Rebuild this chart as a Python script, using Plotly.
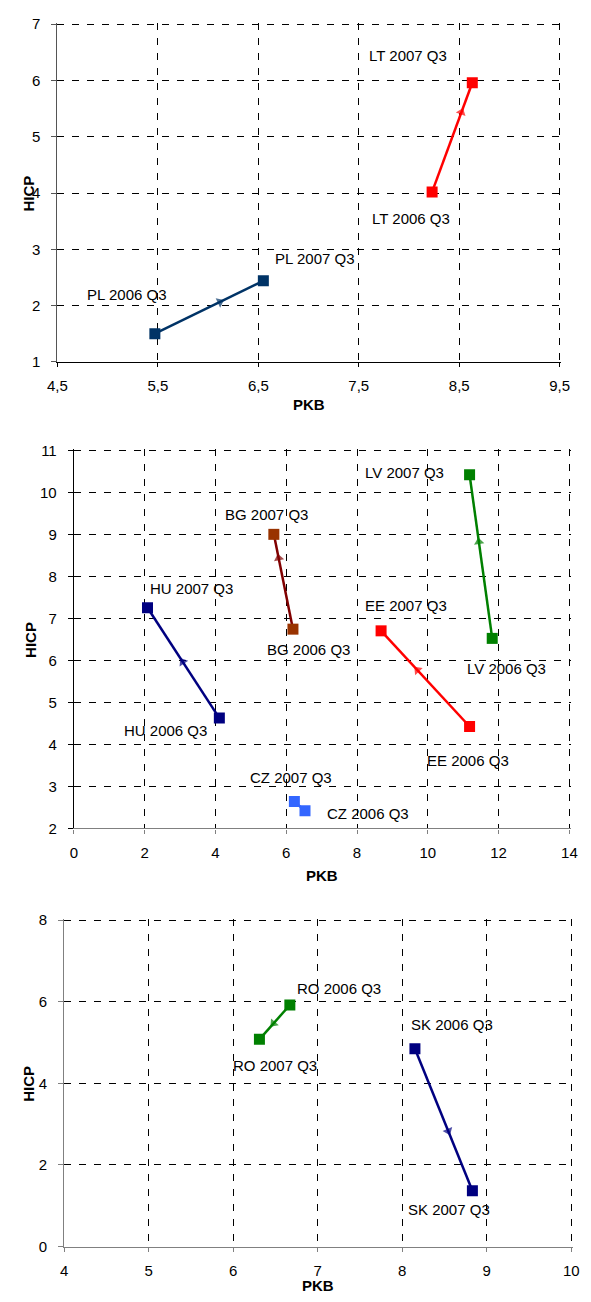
import plotly.graph_objects as go

W, H = 591, 1302

# ---------------- data ----------------
# Chart 1
c1_countries = ["PL", "LT"]
c1_pkb_2006 = [5.47, 8.23]
c1_pkb_2007 = [6.55, 8.63]
c1_hicp_2006 = [1.50, 4.02]
c1_hicp_2007 = [2.44, 5.96]
c1_xticks = [4.5, 5.5, 6.5, 7.5, 8.5, 9.5]
c1_xticktext = ["4,5", "5,5", "6,5", "7,5", "8,5", "9,5"]
c1_yticks = [1, 2, 3, 4, 5, 6, 7]

# Chart 2
c2_countries = ["HU", "BG", "CZ", "EE", "LV"]
c2_pkb_2006 = [4.11, 6.19, 6.53, 11.18, 11.82]
c2_pkb_2007 = [2.08, 5.65, 6.23, 8.68, 11.18]
c2_hicp_2006 = [4.63, 6.75, 2.42, 4.43, 6.53]
c2_hicp_2007 = [7.26, 9.01, 2.64, 6.71, 10.43]
c2_xticks = [0, 2, 4, 6, 8, 10, 12, 14]
c2_yticks = [2, 3, 4, 5, 6, 7, 8, 9, 10, 11]

# Chart 3
c3_countries = ["RO", "SK"]
c3_pkb_2006 = [6.67, 8.15]
c3_pkb_2007 = [6.31, 8.83]
c3_hicp_2006 = [5.92, 4.85]
c3_hicp_2007 = [5.08, 1.37]
c3_xticks = [4, 5, 6, 7, 8, 9, 10]
c3_yticks = [0, 2, 4, 6, 8]

# ---------------- styles ----------------
style = {
    "PL": dict(line="#003366", marker="#003366", f=0.60, o06=(-28, 39), o07=(52, 22)),
    "LT": dict(line="#FF0000", marker="#FF0000", f=0.73, o06=(-21, -27), o07=(-64, 27)),
    "HU": dict(line="#000080", marker="#000080", f=0.51, o06=(-54, -12), o07=(44, 19)),
    "BG": dict(line="#800000", marker="#993300", f=0.75, o06=(16, -20), o07=(-7, 20)),
    "CZ": dict(line="#3366FF", marker="#3366FF", f=None, o06=(63, -3), o07=(-3, 24)),
    "EE": dict(line="#FF0000", marker="#FF0000", f=0.59, o06=(-2, -34), o07=(25, 25)),
    "LV": dict(line="#008000", marker="#008000", f=0.59, o06=(14, -30), o07=(-65, 2)),
    "RO": dict(line="#008000", marker="#008000", f=0.54, o06=(49, 17), o07=(16, -26)),
    "SK": dict(line="#000080", marker="#000080", f=0.58, o06=(37, 24), o07=(-23, -19)),
}

FONT = "Liberation Sans, Arial, sans-serif"

charts = [
    dict(countries=c1_countries, x06=c1_pkb_2006, x07=c1_pkb_2007, y06=c1_hicp_2006, y07=c1_hicp_2007,
         xt=c1_xticks, xtt=c1_xticktext, yt=c1_yticks, xr=[4.5, 9.5], yr=[1, 7],
         px=(49, 568, 17.5, 359), xline="#000000", yline="#555555", xtitle_y=402, ytitle_x=19),
    dict(countries=c2_countries, x06=c2_pkb_2006, x07=c2_pkb_2007, y06=c2_hicp_2006, y07=c2_hicp_2007,
         xt=c2_xticks, xtt=[str(v) for v in c2_xticks], yt=c2_yticks, xr=[0, 14], yr=[2, 11],
         px=(66, 578, 449, 831), xline="#808080", yline="#000000", xtitle_y=879, ytitle_x=21),
    dict(countries=c3_countries, x06=c3_pkb_2006, x07=c3_pkb_2007, y06=c3_hicp_2006, y07=c3_hicp_2007,
         xt=c3_xticks, xtt=[str(v) for v in c3_xticks], yt=c3_yticks, xr=[4, 10], yr=[0, 8],
         px=(56, 580, 924, 1254), xline="#808080", yline="#808080", xtitle_y=1293, ytitle_x=19),
]

fig = go.Figure()
annotations = []
layout = {}

for i, ch in enumerate(charts, start=1):
    xa = "x" if i == 1 else f"x{i}"
    ya = "y" if i == 1 else f"y{i}"
    xl, xr_, yt_, yb = ch["px"]
    # tiny extension so that the gridlines at the top / right edges are drawn
    xspan = ch["xr"][1] - ch["xr"][0]
    yspan = ch["yr"][1] - ch["yr"][0]
    xrange = [ch["xr"][0], ch["xr"][1] + xspan * 0.003]
    yrange = [ch["yr"][0], ch["yr"][1] + yspan * 0.004]
    layout["xaxis" if i == 1 else f"xaxis{i}"] = dict(
        domain=[xl / W, (xr_ + 1.5) / W], anchor=ya, range=xrange,
        tickvals=ch["xt"], ticktext=ch["xtt"], ticks="outside", ticklen=4, tickcolor=ch["xline"],
        showline=True, linecolor=ch["xline"], linewidth=1.3,
        showgrid=True, gridcolor="#000000", griddash="7px,8px", gridwidth=1,
        zeroline=False, tickfont=dict(family=FONT, size=15, color="#000"),
        ticklabelstandoff=6, fixedrange=True,
    )
    layout["yaxis" if i == 1 else f"yaxis{i}"] = dict(
        domain=[1 - yb / H, 1 - (yt_ - 1.5) / H], anchor=xa, range=yrange,
        tickvals=ch["yt"], ticks="outside", ticklen=5, tickcolor=ch["yline"],
        showline=True, linecolor=ch["yline"], linewidth=1.3,
        showgrid=True, gridcolor="#000000", griddash="7px,8px", gridwidth=1,
        zeroline=False, tickfont=dict(family=FONT, size=15, color="#000"),
        ticklabelstandoff=8, fixedrange=True,
    )
    for j, c in enumerate(ch["countries"]):
        s = style[c]
        xs = [ch["x06"][j], ch["x07"][j]]
        ys = [ch["y06"][j], ch["y07"][j]]
        fig.add_trace(go.Scatter(
            x=xs, y=ys, xaxis=xa, yaxis=ya, mode="lines+markers",
            line=dict(color=s["line"], width=2.5),
            marker=dict(symbol="square", size=11, color=s["marker"]),
            showlegend=False, hoverinfo="skip",
        ))
        if s["f"] is not None:
            f = s["f"]
            ax_ = [xs[0] + (xs[1] - xs[0]) * (f - 0.05), xs[0] + (xs[1] - xs[0]) * f]
            ay_ = [ys[0] + (ys[1] - ys[0]) * (f - 0.05), ys[0] + (ys[1] - ys[0]) * f]
            fig.add_trace(go.Scatter(
                x=ax_, y=ay_, xaxis=xa, yaxis=ya, mode="markers",
                marker=dict(symbol="triangle-up", size=[0, 9], color=s["line"],
                            angleref="previous", line=dict(width=0)),
                showlegend=False, hoverinfo="skip",
            ))
        for yr_lbl, px_, py_, off in (("2006", xs[0], ys[0], s["o06"]), ("2007", xs[1], ys[1], s["o07"])):
            annotations.append(dict(
                x=px_, y=py_, xref=xa, yref=ya, xshift=off[0], yshift=off[1],
                text=f"{c} {yr_lbl} Q3", showarrow=False,
                font=dict(family=FONT, size=15, color="#000"),
            ))
    annotations.append(dict(
        x=(xl + xr_) / 2 / W, y=1 - ch["xtitle_y"] / H, xref="paper", yref="paper",
        text="<b>PKB</b>", showarrow=False, font=dict(family=FONT, size=15, color="#000"),
        xanchor="center", yanchor="middle",
    ))
    annotations.append(dict(
        x=ch["ytitle_x"] / W, y=1 - (yt_ + yb) / 2 / H, xref="paper", yref="paper",
        text="<b>HICP</b>", showarrow=False, textangle=-90, font=dict(family=FONT, size=15, color="#000"),
        xanchor="center", yanchor="middle",
    ))

fig.update_layout(
    width=W, height=H, margin=dict(l=0, r=0, t=0, b=0),
    paper_bgcolor="white", plot_bgcolor="white",
    showlegend=False, hovermode=False,
    annotations=annotations, **layout,
)

fig.write_html("out.html", config={"displayModeBar": False})
